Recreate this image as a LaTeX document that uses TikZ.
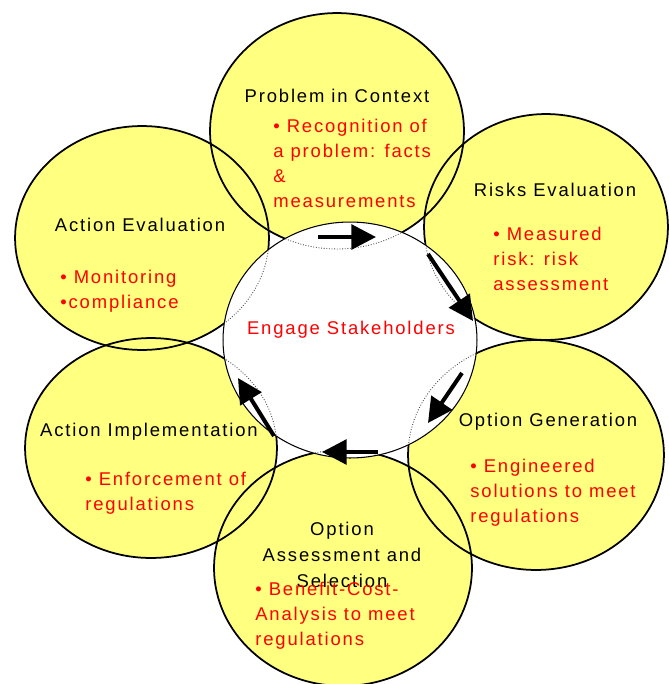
\documentclass[tikz,border=0pt]{standalone}
\usepackage{fontspec}
\setmainfont{Liberation Sans}[LetterSpace=10]
\usetikzlibrary{shapes.geometric, arrows.meta}

\definecolor{petalyellow}{RGB}{255,255,128}
\definecolor{notered}{RGB}{255,0,0}

% name/x/y/half width/half height of the six petals
\newcommand\petallist{pic/337/131/127/118, risk/546/227/122/113, gen/536/455/128/115,
  sel/343/568/129/118, impl/151/448/126/110, eval/142/238/127/112}

\begin{document}
\begin{tikzpicture}[x=0.02cm, y=-0.02cm,
    petal/.style={ellipse, fill=petalyellow, inner sep=0pt},
    rim/.style={ellipse, draw, line width=1pt, inner sep=0pt},
    ghost/.style={ellipse, draw=black!70, densely dotted, line width=0.5pt, inner sep=0pt},
    hub/.style={ellipse, draw, fill=white, line width=0.6pt, inner sep=0pt,
        minimum width=5.08cm, minimum height=4.72cm},
    head/.style={font=\fontsize{10.5}{14.6}\selectfont, inner sep=0pt},
    note/.style={font=\fontsize{10.5}{14.2}\selectfont, text=notered, align=left,
        anchor=north west, inner sep=0pt},
    flow/.style={line width=2.3pt, -{Triangle[length=14pt, width=14pt]}}]

    \useasboundingbox (0,0) rectangle (669,684);

    \foreach \n/\x/\y/\a/\b in \petallist
        \node[petal, minimum width=\a*0.04cm, minimum height=\b*0.04cm] (\n) at (\x,\y) {};
    \foreach \n/\x/\y/\a/\b in \petallist
        \node[rim, minimum width=\a*0.04cm, minimum height=\b*0.04cm] (\n-rim) at (\x,\y) {};

    \node[hub] (hub) at (350,340) {};

    % petal edges seen through the hub
    \begin{scope}
        \clip (350,340) ellipse [x radius=127, y radius=118];
        \foreach \n/\x/\y/\a/\b in \petallist
            \node[ghost, minimum width=\a*0.04cm, minimum height=\b*0.04cm] (\n-ghost) at (\x,\y) {};
    \end{scope}

    \foreach \i/\sx/\sy/\ex/\ey in {1/318/237/376/237, 2/428/254/473/321, 3/462/373/428/423,
        4/378/452/322/452, 5/274/436/238/378} {
        \coordinate (f\i a) at (\sx,\sy);
        \coordinate (f\i b) at (\ex,\ey);
        \draw[flow] (f\i a) -- (f\i b);
    }

    \node[head] (pic-title) at (337,102) [anchor=base] {Problem in Context};
    \node[head] (risk-title) at (555,196) [anchor=base] {Risks Evaluation};
    \node[head] (eval-title) at (140,231) [anchor=base] {Action Evaluation};
    \node[head] (gen-title) at (548,426) [anchor=base] {Option Generation};
    \node[head] (impl-title) at (149,436) [anchor=base] {Action Implementation};
    \node[head, align=center, anchor=north] (sel-title) at (342,522) {Option\\Assessment and\\Selection};
    \node[head, text=notered] (hub-title) at (351,334) [anchor=base] {Engage Stakeholders};

    \node[note] (pic-note) at (273,119) {• Recognition of\\a problem: facts\\\&\\measurements};
    \node[note] (risk-note) at (493,227) {• Measured\\risk: risk\\assessment};
    \node[note] (eval-note) at (60,270) {• Monitoring\\•compliance};
    \node[note] (gen-note) at (470,459) {• Engineered\\solutions to meet\\regulations};
    \node[note] (impl-note) at (85,472) {• Enforcement of\\regulations};
    \node[note] (sel-note) at (255,582) {• Benefit-Cost-\\Analysis to meet\\regulations};
\end{tikzpicture}
\end{document}
